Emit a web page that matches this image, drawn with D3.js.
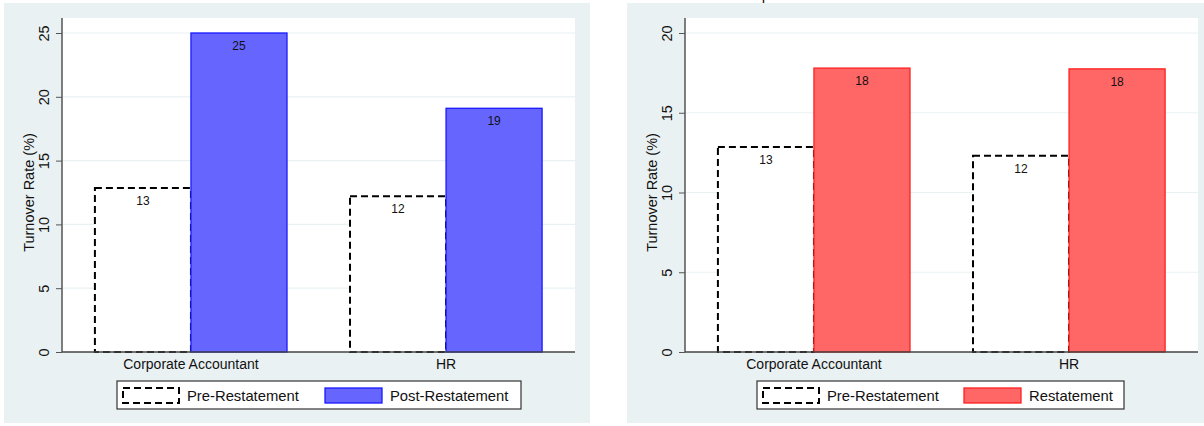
<!DOCTYPE html>
<html>
<head>
<meta charset="utf-8">
<title>Turnover Rate</title>
<script src="https://cdn.jsdelivr.net/npm/d3@7"></script>
<style>
	body { margin: 0; background: #fff; }
	text { font-family: "Liberation Sans", Arial, Helvetica, sans-serif; fill: #111; }
</style>
</head>
<body>
<svg id="chart" width="1204" height="426"></svg>
<script>
	var categories = ["Corporate Accountant", "HR"]

	// left panel
	var leftPre = [12.85, 12.2]
	var leftPost = [25.0, 19.1]
	var leftTicks = [0, 5, 10, 15, 20, 25]
	var leftLegend = ["Pre-Restatement", "Post-Restatement"]

	// right panel
	var rightPre = [12.85, 12.3]
	var rightPost = [17.8, 17.75]
	var rightTicks = [0, 5, 10, 15, 20]
	var rightLegend = ["Pre-Restatement", "Restatement"]

	var svg = d3.select('#chart')

	// title of the figure sits above the page, only a descender shows
	svg.append('text')
		.attr('x', 766).attr('y', 0)
		.attr('text-anchor', 'middle')
		.style('font-size', '15px')
		.text('p')

	function drawPanel(opt) {
		var g = svg.append('g').attr('transform', 'translate(' + opt.left + ',0)')

		g.append('rect')
			.attr('x', 0).attr('y', 3)
			.attr('width', 586).attr('height', 420)
			.attr('fill', '#eaf1f3')

		var plotX = 58, plotW = 513, plotTop = 18, base = 352

		g.append('rect')
			.attr('x', plotX).attr('y', plotTop)
			.attr('width', plotW).attr('height', base - plotTop)
			.attr('fill', '#fff')

		var y = d3.scaleLinear().domain([0, opt.ymax]).range([base, 33])
		var x0 = d3.scaleBand().domain(categories).range([plotX, plotX + plotW])
			.paddingInner(0.247).paddingOuter(0.129)
		var x1 = d3.scaleBand().domain(['pre', 'post']).range([0, x0.bandwidth()])

		// grid
		g.selectAll('.grid').data(opt.ticks.slice(1)).enter()
			.append('line')
			.attr('x1', plotX).attr('x2', plotX + plotW)
			.attr('y1', function(d) { return y(d) })
			.attr('y2', function(d) { return y(d) })
			.attr('stroke', '#eaf1f3').attr('stroke-width', 1.2)

		var rows = categories.map(function(c, i) {
			return { cat: c, pre: opt.pre[i], post: opt.post[i] }
		})

		var groups = g.selectAll('.grp').data(rows).enter()
			.append('g')
			.attr('transform', function(d) { return 'translate(' + x0(d.cat) + ',0)' })

		groups.append('rect')
			.attr('x', x1('pre')).attr('width', x1.bandwidth())
			.attr('y', function(d) { return y(d.pre) })
			.attr('height', function(d) { return base - y(d.pre) })
			.attr('fill', '#fff').attr('stroke', '#000')
			.attr('stroke-width', 2).attr('stroke-dasharray', '7,4')

		groups.append('rect')
			.attr('x', x1('post')).attr('width', x1.bandwidth())
			.attr('y', function(d) { return y(d.post) })
			.attr('height', function(d) { return base - y(d.post) })
			.attr('fill', opt.fill).attr('stroke', opt.stroke).attr('stroke-width', 1.3)

		groups.append('text')
			.attr('x', x1('pre') + x1.bandwidth() / 2)
			.attr('y', function(d) { return y(d.pre) + 17 })
			.attr('text-anchor', 'middle').style('font-size', '12px')
			.text(function(d) { return Math.round(d.pre) })

		groups.append('text')
			.attr('x', x1('post') + x1.bandwidth() / 2)
			.attr('y', function(d) { return y(d.post) + 17 })
			.attr('text-anchor', 'middle').style('font-size', '12px')
			.text(function(d) { return Math.round(d.post) })

		// y axis
		var yAxis = d3.axisLeft(y).tickValues(opt.ticks).tickSize(6).tickPadding(5)
		var ya = g.append('g').attr('transform', 'translate(' + plotX + ',0)').call(yAxis)
		ya.select('.domain').remove()
		ya.selectAll('.tick line').attr('stroke', '#555')
		ya.selectAll('.tick text')
			.attr('transform', 'rotate(-90)')
			.attr('x', 0).attr('y', -18).attr('dy', '0.35em')
			.attr('text-anchor', 'middle')
			.style('font-size', '14.5px').style('font-family', '"Liberation Sans", Arial, sans-serif')
			.attr('fill', '#111')
		g.append('line')
			.attr('x1', plotX).attr('x2', plotX)
			.attr('y1', plotTop).attr('y2', base)
			.attr('stroke', '#555').attr('stroke-width', 1.5)

		g.append('text')
			.attr('transform', 'translate(' + (plotX - 33) + ',' + ((33 + base) / 2) + ') rotate(-90)')
			.attr('text-anchor', 'middle').attr('dy', '0.35em')
			.style('font-size', '14.5px')
			.text('Turnover Rate (%)')

		// x axis
		var xAxis = d3.axisBottom(x0).tickSize(0).tickPadding(0)
		var xa = g.append('g').attr('transform', 'translate(0,' + base + ')').call(xAxis)
		xa.select('.domain').remove()
		xa.selectAll('.tick text')
			.attr('y', 17).attr('dy', 0)
			.style('font-size', '14px').style('font-family', '"Liberation Sans", Arial, sans-serif')
			.attr('fill', '#111')
		g.append('line')
			.attr('x1', plotX).attr('x2', plotX + plotW)
			.attr('y1', base).attr('y2', base)
			.attr('stroke', '#444').attr('stroke-width', 1.5)

		// legend
		var lg = g.append('g').attr('transform', 'translate(' + opt.legX + ',381)')
		lg.append('rect')
			.attr('width', opt.legW).attr('height', 28)
			.attr('fill', '#fff').attr('stroke', '#333').attr('stroke-width', 1.2)
		lg.append('rect')
			.attr('x', 6).attr('y', 7).attr('width', 56).attr('height', 15)
			.attr('fill', '#fff').attr('stroke', '#000').attr('stroke-width', 2)
			.attr('stroke-dasharray', '7,4')
		lg.append('text').attr('x', 70).attr('y', 20).style('font-size', '14.8px').text(opt.legend[0])
		lg.append('rect')
			.attr('x', opt.sw2).attr('y', 7).attr('width', 57).attr('height', 15)
			.attr('fill', opt.fill).attr('stroke', opt.stroke).attr('stroke-width', 1.3)
		lg.append('text').attr('x', opt.sw2 + 65).attr('y', 20).style('font-size', '14.8px').text(opt.legend[1])
	}

	drawPanel({
		left: 4, ymax: 25, ticks: leftTicks, pre: leftPre, post: leftPost,
		fill: '#6666ff', stroke: '#1a1aff', legend: leftLegend,
		legX: 113, legW: 404, sw2: 208
	})

	drawPanel({
		left: 627, ymax: 20, ticks: rightTicks, pre: rightPre, post: rightPost,
		fill: '#ff6666', stroke: '#ff2020', legend: rightLegend,
		legX: 130, legW: 367, sw2: 207
	})
</script>
</body>
</html>
